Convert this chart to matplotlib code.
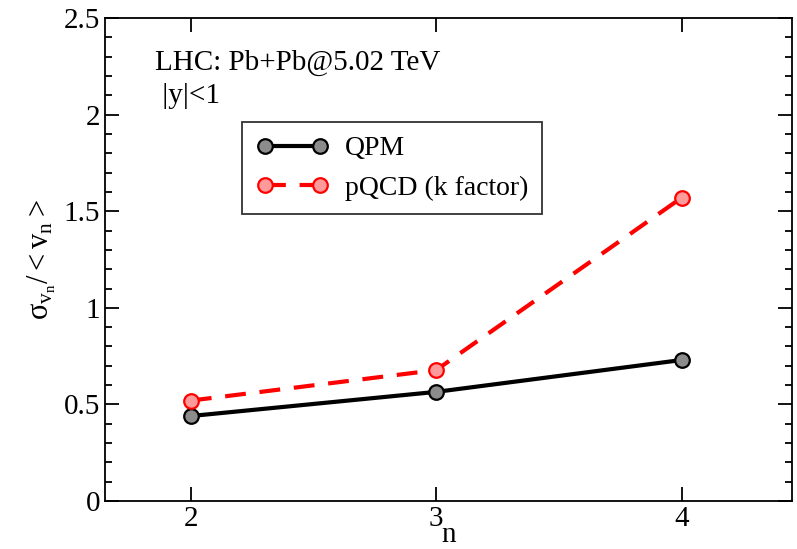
import matplotlib
matplotlib.use('Agg')
import matplotlib.pyplot as plt
from matplotlib.ticker import MultipleLocator

plt.rcParams['font.family'] = ['Liberation Serif', 'DejaVu Serif']
plt.rcParams['mathtext.fontset'] = 'custom'
plt.rcParams['mathtext.rm'] = 'Liberation Serif'
plt.rcParams['mathtext.it'] = 'Liberation Serif'

# 데이터
n = [2, 3, 4]
qpm = [0.44, 0.565, 0.73]
pqcd = [0.52, 0.678, 1.57]

fig = plt.figure(figsize=(7.97, 5.49), dpi=100)
ax = fig.add_axes([0.1317, 0.0874, 0.862, 0.8796])

ax.plot(n, qpm, color='black', lw=3, marker='o', ms=10.5,
        mfc='#8c8c8c', mec='black', mew=1.6, label='QPM')
ax.plot(n, pqcd, color='red', lw=3, ls=(0, (5, 3.3)), marker='o', ms=10.5,
        mfc='#ff9a9a', mec='red', mew=1.6, label='pQCD (k factor)')

ax.set_xlim(1.65, 4.45)
ax.set_ylim(0, 2.5)
ax.set_xticks([2, 3, 4])
ax.yaxis.set_major_locator(MultipleLocator(0.5))
ax.yaxis.set_minor_locator(MultipleLocator(0.1))
ax.set_yticks([0, 0.5, 1, 1.5, 2, 2.5])
ax.set_yticklabels(['0', '0.5', '1', '1.5', '2', '2.5'])
ax.tick_params(axis='both', which='major', direction='in', length=10, width=1.3,
               labelsize=21, right=True, top=True)
ax.tick_params(axis='y', which='minor', direction='in', length=5, width=1.3, right=True)
for s in ax.spines.values():
    s.set_linewidth(1.3)

ax.set_xlabel('n', fontsize=21, labelpad=-7)
ax.set_ylabel(r'$\mathrm{\sigma_{v_n}/{<}v_n{>}}$', fontsize=22, labelpad=4)

ax.text(0.073, 0.935, 'LHC: Pb+Pb@5.02 TeV', transform=ax.transAxes, fontsize=21,
        va='top')
ax.text(0.073, 0.865, ' |y|<1', transform=ax.transAxes, fontsize=21, va='top')

leg = ax.legend(loc='upper left', bbox_to_anchor=(0.2, 0.785), fontsize=20,
                frameon=True, fancybox=False, edgecolor='black', numpoints=2,
                handlelength=2.6, handletextpad=0.6, borderpad=0.5,
                labelspacing=0.5, borderaxespad=0)
leg.get_frame().set_linewidth(1.3)

fig.savefig('out.png', dpi=100)
